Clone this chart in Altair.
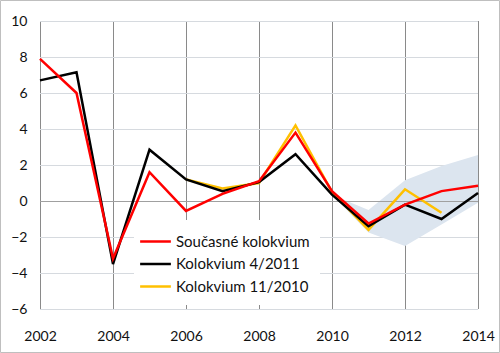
import altair as alt
import pandas as pd

years = list(range(2002, 2015))
soucasne = [7.9, 6.0, -3.2, 1.6, -0.55, 0.4, 1.1, 3.8, 0.55, -1.25, -0.2, 0.55, 0.85]
kol_4_2011 = [6.7, 7.15, -3.5, 2.85, 1.2, 0.55, 1.05, 2.6, 0.35, -1.4, -0.2, -1.0, 0.45]
kol_11_2010_years = list(range(2006, 2014))
kol_11_2010 = [1.2, 0.7, 1.0, 4.2, 0.5, -1.6, 0.65, -0.65]
band_years = [2010, 2011, 2012, 2013, 2014]
band_upper = [0.35, -0.5, 1.15, 1.95, 2.55]
band_lower = [0.35, -1.75, -2.5, -1.3, -0.1]
x_ticks = [2002, 2004, 2006, 2008, 2010, 2012, 2014]
y_ticks = [-6, -4, -2, 0, 2, 4, 6, 8, 10]

names = ["Současné kolokvium", "Kolokvium 4/2011", "Kolokvium 11/2010"]
colors = ["#ff0000", "#000000", "#ffc000"]

rows = []
for y, v in zip(years, soucasne):
    rows.append({"year": y, "value": v, "series": names[0]})
for y, v in zip(years, kol_4_2011):
    rows.append({"year": y, "value": v, "series": names[1]})
for y, v in zip(kol_11_2010_years, kol_11_2010):
    rows.append({"year": y, "value": v, "series": names[2]})
lines_df = pd.DataFrame(rows)
band_df = pd.DataFrame({"year": band_years, "lo": band_lower, "hi": band_upper})

FONT = "Lato"
W, H = 438, 288
xscale = alt.Scale(domain=[2002, 2014], nice=False, zero=False)
yscale = alt.Scale(domain=[-6, 10], nice=False, zero=False)

xaxis = alt.Axis(values=x_ticks, format="d", title=None, labelPadding=20,
                 labelFlush=False, labelOverlap=False, grid=False)
yaxis = alt.Axis(values=y_ticks, title=None, labelPadding=13, labelOverlap=False,
                 grid=False)

vgrid = alt.Chart(pd.DataFrame({"gx": x_ticks})).mark_rule(
    stroke="#8a8a8a", strokeWidth=1, xOffset=0.5
).encode(
    x=alt.X("gx:Q", scale=xscale, axis=xaxis),
)
hgrid = alt.Chart(pd.DataFrame({"gy": [t for t in y_ticks if t != 0]})).mark_rule(
    stroke="#d6dadf", strokeWidth=1, yOffset=0.5
).encode(
    y=alt.Y("gy:Q", scale=yscale, axis=yaxis),
)

band = alt.Chart(band_df).mark_area(color="#dce5ef", opacity=1).encode(
    x=alt.X("year:Q", scale=xscale, axis=xaxis),
    y=alt.Y("lo:Q", scale=yscale, axis=yaxis),
    y2="hi:Q",
)

zero = alt.Chart(pd.DataFrame({"z": [0]})).mark_rule(
    stroke="#a0a0a0", strokeWidth=1, yOffset=0.5
).encode(
    y=alt.Y("z:Q", scale=yscale, axis=yaxis),
)

color = alt.Color("series:N", scale=alt.Scale(domain=names, range=colors),
                  legend=alt.Legend(title=None, orient="none", legendX=94, legendY=199,
                                    fillColor="white", padding=10,
                                    symbolType="M-1.5,0H1.5", symbolSize=420,
                                    symbolStrokeWidth=2.5, labelFontSize=15,
                                    labelFont=FONT, labelColor="#111",
                                    labelOffset=9, rowPadding=2.5, labelLimit=300))

def series_layer(name):
    return alt.Chart(lines_df).transform_filter(
        alt.datum.series == name
    ).mark_line(strokeWidth=2.5).encode(
        x=alt.X("year:Q", scale=xscale, axis=xaxis),
        y=alt.Y("value:Q", scale=yscale, axis=yaxis),
        color=color,
    )

border = alt.Chart(pd.DataFrame({"a": [0]})).mark_rect(
    fillOpacity=0, stroke="#bfbfbf", strokeWidth=1
).encode(
    x=alt.value(-39.5), x2=alt.value(459.5), y=alt.value(-20.5), y2=alt.value(331.5)
)

chart = alt.layer(
    border, vgrid, hgrid, band, zero, series_layer(names[2]), series_layer(names[1]),
    series_layer(names[0])
).properties(
    width=W, height=H,
    autosize=alt.AutoSizeParams(type="none"),
    padding={"left": 40, "top": 21, "right": 500 - 40 - W, "bottom": 353 - 21 - H},
    background="white",
).configure_view(stroke=None).configure_axis(
    domain=False, ticks=False,
    labelFontSize=14, labelFont=FONT, labelColor="#111",
)

chart.save("out.html", embed_options={"renderer": "svg", "actions": False})
